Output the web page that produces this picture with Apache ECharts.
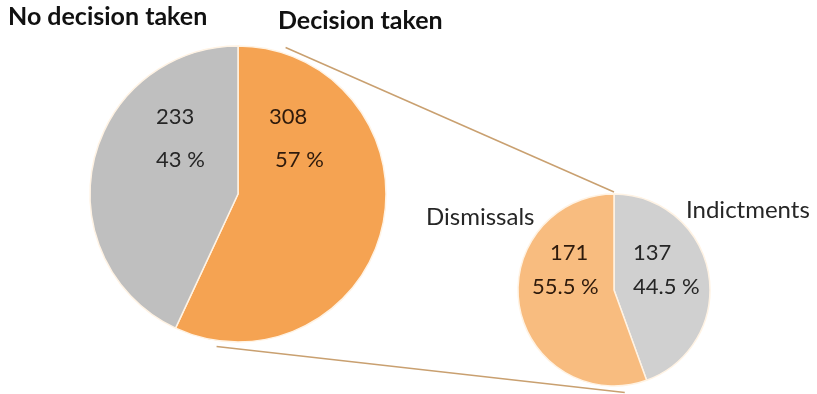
<!DOCTYPE html>
<html>
<head>
<meta charset="utf-8">
<script src="https://cdn.jsdelivr.net/npm/echarts@6/dist/echarts.min.js"></script>
<style>
  html, body { margin: 0; padding: 0; background: #ffffff; }
  #chart { width: 817px; height: 394px; }
</style>
</head>
<body>
<div id="chart"></div>
<script>
// Case outcomes: overall split and breakdown of the decided cases
const mainCategories = ['Decision taken', 'No decision taken'];
const mainValues = [308, 233];
const subCategories = ['Indictments', 'Dismissals'];
const subValues = [137, 171];

// Layout
const FONT = 'Lato, "Open Sans", sans-serif';
const bigC = [238, 194], bigR = 148;
const smallC = [614, 290], smallR = 96;
const mainColors = ['#F5A352', '#BFBFBF'];
const subColors = ['#D0D0D0', '#F8BC7F'];

function pct(v, arr, digits) {
  const total = arr.reduce((a, b) => a + b, 0);
  return (v / total * 100).toFixed(digits) + ' %';
}
function polar(c, r, deg) {
  const a = deg * Math.PI / 180;
  return [c[0] + r * Math.sin(a), c[1] - r * Math.cos(a)];
}

const chart = echarts.init(document.getElementById('chart'), null, { renderer: 'canvas' });

const numText = (x, y, text, fill) => ({
  type: 'text', x: x, y: y, z: 10,
  style: { text: text, font: '22px ' + FONT, fill: fill || '#262626', align: 'left', verticalAlign: 'middle' }
});

const l1a = polar(bigC, bigR + 6, 18), l1b = polar(smallC, smallR + 2, 0);
const l2a = polar(bigC, bigR + 6, 188), l2b = polar(smallC, smallR + 7, 174);

chart.setOption({
  backgroundColor: '#ffffff',
  animation: false,
  series: [
    {
      type: 'pie', center: bigC, radius: bigR, startAngle: 90, clockwise: true,
      label: { show: false }, labelLine: { show: false }, emphasis: { disabled: true },
      itemStyle: { borderColor: '#FFF3E4', borderWidth: 1.5 },
      data: mainCategories.map((n, i) => ({ name: n, value: mainValues[i], itemStyle: { color: mainColors[i] } }))
    },
    {
      type: 'pie', center: smallC, radius: smallR, startAngle: 90, clockwise: true,
      label: { show: false }, labelLine: { show: false }, emphasis: { disabled: true },
      itemStyle: { borderColor: '#FFF3E4', borderWidth: 1.5 },
      data: subCategories.map((n, i) => ({ name: n, value: subValues[i], itemStyle: { color: subColors[i] } }))
    }
  ],
  graphic: [
    { type: 'line', shape: { x1: l1a[0], y1: l1a[1], x2: l1b[0], y2: l1b[1] }, style: { stroke: '#C9A070', lineWidth: 1.5 } },
    { type: 'line', shape: { x1: l2a[0], y1: l2a[1], x2: l2b[0], y2: l2b[1] }, style: { stroke: '#C9A070', lineWidth: 1.5 } },
    // headings
    { type: 'text', x: 8, y: 17, style: { text: mainCategories[1], font: 'bold 25px ' + FONT, fill: '#111', verticalAlign: 'middle' } },
    { type: 'text', x: 278, y: 21, style: { text: mainCategories[0], font: 'bold 25px ' + FONT, fill: '#111', verticalAlign: 'middle' } },
    // sub-category names
    { type: 'text', x: 426, y: 217, style: { text: subCategories[1], font: '24px ' + FONT, fill: '#262626', verticalAlign: 'middle' } },
    { type: 'text', x: 686, y: 210, style: { text: subCategories[0], font: '24px ' + FONT, fill: '#262626', verticalAlign: 'middle' } },
    // values in the large pie
    numText(156, 117, String(mainValues[1])),
    numText(156, 160, pct(mainValues[1], mainValues, 0)),
    numText(269, 117, String(mainValues[0]), '#2E1A0C'),
    numText(275, 160, pct(mainValues[0], mainValues, 0), '#2E1A0C'),
    // values in the small pie
    numText(550, 253, String(subValues[1]), '#2E1A0C'),
    numText(532, 287, pct(subValues[1], subValues, 1), '#2E1A0C'),
    numText(633, 253, String(subValues[0])),
    numText(633, 287, pct(subValues[0], subValues, 1))
  ]
});
</script>
</body>
</html>
